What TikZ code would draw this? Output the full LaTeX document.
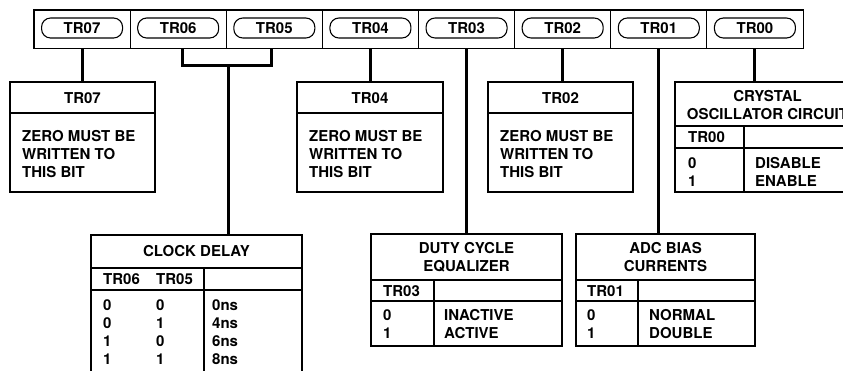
\documentclass[tikz,border=0pt]{standalone}
\usepackage{fontspec}
\setmainfont{TeX Gyre Heros}
\tikzset{
  regcell/.style={draw, line width=1pt, minimum width=96.125pt, minimum height=38pt, inner sep=0pt},
  pill/.style={draw, line width=1.1pt, rounded corners=9pt, minimum width=81pt, minimum height=20pt, inner sep=0pt},
  wire/.style={line width=3pt},
  tbox/.style={draw, line width=1.6pt, inner sep=0pt},
  rule/.style={line width=1.4pt},
  hdr/.style={align=center, inner sep=0pt},
  txt/.style={align=left, anchor=north west, inner sep=0pt}
}
\begin{document}
\begin{tikzpicture}[x=1pt, y=-1pt, font=\fontsize{15pt}{18pt}\selectfont\bfseries]
\useasboundingbox (0,0) rectangle (843,370);
\clip (0,0) rectangle (843,370);

% register bits
\foreach \b [count=\i from 0] in {07,06,05,04,03,02,01,00} {
  \node[regcell] (c\b) at ({34+96.125*(\i+0.5)},29) {};
  \node[pill] (p\b) at ([yshift=1pt]c\b) {TR\b};
}
\draw[line width=1.8pt] (c07.north west) rectangle (c00.south east);

% bit boxes
\node[tbox, minimum width=145pt, minimum height=110pt] (b07) at (82.5,137) {};
\node[tbox, minimum width=146pt, minimum height=110pt] (b04) at (370,137) {};
\node[tbox, minimum width=145pt, minimum height=110pt] (b02) at (560.5,137) {};
\node[tbox, minimum width=185pt, minimum height=110pt] (b00) at (767.5,137) {};
\node[tbox, minimum width=211pt, minimum height=155pt] (clk) at (196.5,312.5) {};
\node[tbox, minimum width=191pt, minimum height=112pt] (duty) at (466.5,290) {};
\node[tbox, minimum width=179pt, minimum height=112pt] (adc) at (665.5,290) {};

% TR07, TR04, TR02
\foreach \b in {07,04,02} {
  \draw[rule] (b\b.west |- 0,113) -- (b\b.east |- 0,113);
}
\node[hdr] (h07) at (b07 |- 0,98) {TR07};
\node[hdr] (h04) at (b04 |- 0,98) {TR04};
\node[hdr] (h02) at (b02 |- 0,98) {TR02};
\node[txt] (t07) at (22,130) {ZERO MUST BE\\WRITTEN TO\\THIS BIT};
\node[txt] (t04) at (309,130) {ZERO MUST BE\\WRITTEN TO\\THIS BIT};
\node[txt] (t02) at (500,130) {ZERO MUST BE\\WRITTEN TO\\THIS BIT};

% TR00
\draw[rule] (b00.west |- 0,126) -- (b00.east |- 0,126);
\draw[rule] (b00.west |- 0,148) -- (b00.east |- 0,148);
\draw[rule] (744,126) -- (744,192);
\node[hdr] (h00) at (767.5,105) {CRYSTAL\\OSCILLATOR CIRCUIT};
\node[txt] (k00) at (688,131.5) {TR00};
\node[txt] (v00) at (688,157) {0\\1};
\node[txt] (s00) at (755,157) {DISABLE\\ENABLE};

% TR06, TR05
\draw[rule] (clk.west |- 0,268) -- (clk.east |- 0,268);
\draw[rule] (clk.west |- 0,290) -- (clk.east |- 0,290);
\draw[rule] (204,268) -- (204,390);
\node[hdr] (hclk) at (196.5,251.5) {CLOCK DELAY};
\node[txt] (k06) at (103,273.5) {TR06};
\node[txt] (k05) at (156,273.5) {TR05};
\node[txt] (v06) at (103,299) {0\\0\\1\\1};
\node[txt] (v05) at (156,299) {0\\1\\0\\1};
\node[txt] (sclk) at (212,299) {0ns\\4ns\\6ns\\8ns};

% TR03
\draw[rule] (duty.west |- 0,280) -- (duty.east |- 0,280);
\draw[rule] (duty.west |- 0,301) -- (duty.east |- 0,301);
\draw[rule] (434,280) -- (434,346);
\node[hdr] (hduty) at (466.5,257) {DUTY CYCLE\\EQUALIZER};
\node[txt] (k03) at (383,285) {TR03};
\node[txt] (v03) at (383,309) {0\\1};
\node[txt] (s03) at (444,309) {INACTIVE\\ACTIVE};

% TR01
\draw[rule] (adc.west |- 0,280) -- (adc.east |- 0,280);
\draw[rule] (adc.west |- 0,301) -- (adc.east |- 0,301);
\draw[rule] (638,280) -- (638,346);
\node[hdr] (hadc) at (665.5,257) {ADC BIAS\\CURRENTS};
\node[txt] (k01) at (587,285) {TR01};
\node[txt] (v01) at (587,309) {0\\1};
\node[txt] (s01) at (649,309) {NORMAL\\DOUBLE};

% connections
\coordinate (join) at (228,65);
\draw[wire] (c07.south) -- (c07.south |- b07.north);
\draw[wire] ([xshift=4pt]c06.south) |- (join) -| ([xshift=-3pt]c05.south);
\draw[wire] (join) -- (join |- clk.north);
\draw[wire] (c04.south) -- (c04.south |- b04.north);
\draw[wire] (c03.south) -- (c03.south |- duty.north);
\draw[wire] (c02.south) -- (c02.south |- b02.north);
\draw[wire] (c01.south) -- (c01.south |- adc.north);
\draw[wire] (c00.south) -- (c00.south |- b00.north);
\end{tikzpicture}
\end{document}
